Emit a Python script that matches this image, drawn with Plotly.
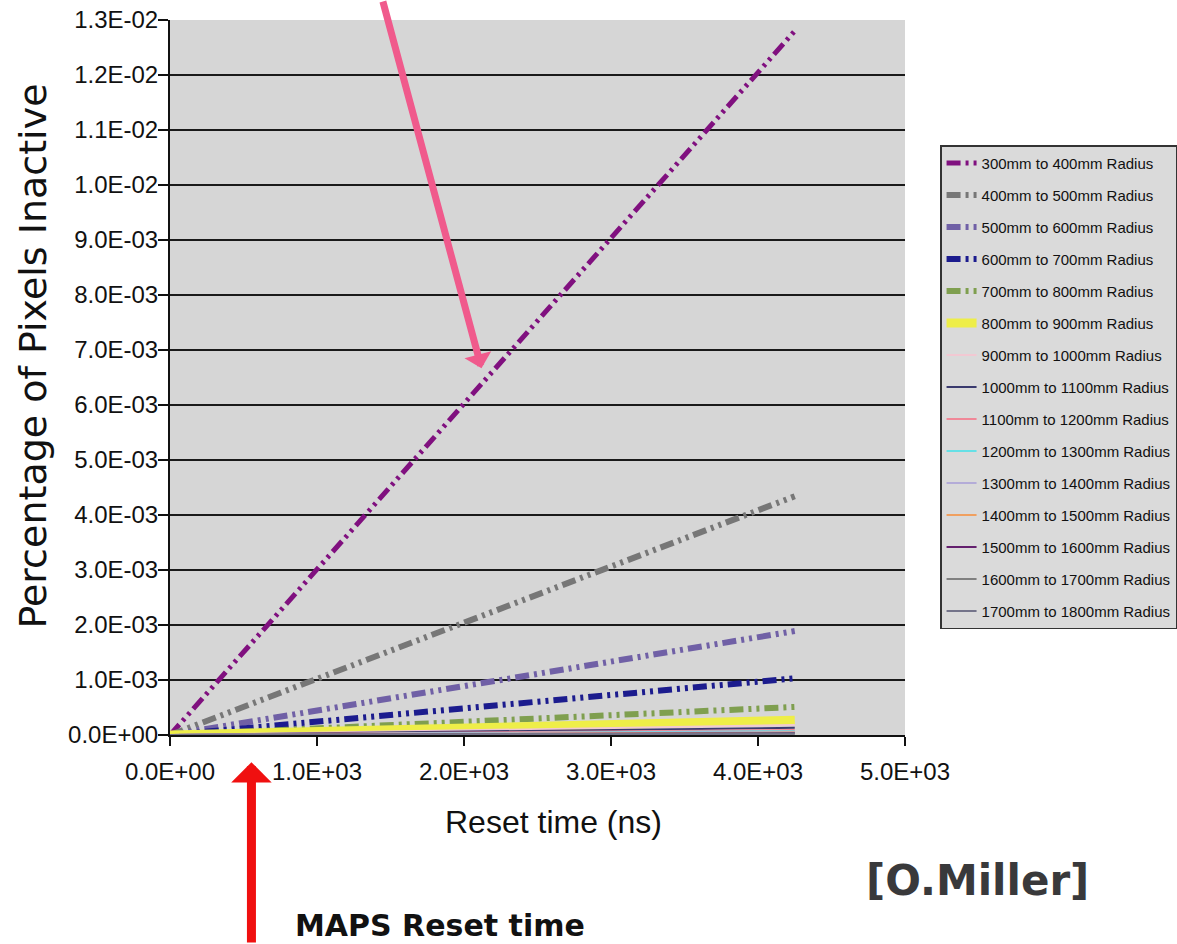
import plotly.graph_objects as go

# Reset time (ns) at which each curve was evaluated
reset_time = [0, 4250]

# Percentage of pixels inactive per radial band
band_labels = [
    "300mm to 400mm Radius", "400mm to 500mm Radius", "500mm to 600mm Radius",
    "600mm to 700mm Radius", "700mm to 800mm Radius", "800mm to 900mm Radius",
    "900mm to 1000mm Radius", "1000mm to 1100mm Radius", "1100mm to 1200mm Radius",
    "1200mm to 1300mm Radius", "1300mm to 1400mm Radius", "1400mm to 1500mm Radius",
    "1500mm to 1600mm Radius", "1600mm to 1700mm Radius", "1700mm to 1800mm Radius",
]
r300_400 = [0.0, 1.28e-2]
r400_500 = [0.0, 4.34e-3]
r500_600 = [0.0, 1.89e-3]
r600_700 = [0.0, 1.03e-3]
r700_800 = [0.0, 5.1e-4]
r800_900 = [0.0, 2.7e-4]
r900_1000 = [0.0, 1.8e-4]
r1000_1100 = [0.0, 1.3e-4]
r1100_1200 = [0.0, 9.0e-5]
r1200_1300 = [0.0, 7.0e-5]
r1300_1400 = [0.0, 5.5e-5]
r1400_1500 = [0.0, 4.5e-5]
r1500_1600 = [0.0, 3.5e-5]
r1600_1700 = [0.0, 2.8e-5]
r1700_1800 = [0.0, 2.2e-5]

band_values = [
    r300_400, r400_500, r500_600, r600_700, r700_800, r800_900, r900_1000,
    r1000_1100, r1100_1200, r1200_1300, r1300_1400, r1400_1500, r1500_1600,
    r1600_1700, r1700_1800,
]

# Axis ticks
y_tickvals = [i * 1e-3 for i in range(14)]
y_ticktext = ["0.0E+00", "1.0E-03", "2.0E-03", "3.0E-03", "4.0E-03", "5.0E-03",
              "6.0E-03", "7.0E-03", "8.0E-03", "9.0E-03", "1.0E-02", "1.1E-02",
              "1.2E-02", "1.3E-02"]
x_tickvals = [0, 1000, 2000, 3000, 4000, 5000]
x_ticktext = ["0.0E+00", "1.0E+03", "2.0E+03", "3.0E+03", "4.0E+03", "5.0E+03"]

# Line styles per band
dashdotdot = "14px,5px,3px,5px,3px,5px"
styles = [
    dict(color="#80107f", width=5, dash=dashdotdot),
    dict(color="#777777", width=6, dash=dashdotdot),
    dict(color="#7060a6", width=6, dash=dashdotdot),
    dict(color="#1c1c8e", width=6, dash=dashdotdot),
    dict(color="#7f9f4f", width=6, dash=dashdotdot),
    dict(color="#eeee48", width=9, dash="solid"),
    dict(color="#f2c8d2", width=2, dash="solid"),
    dict(color="#3a3a6e", width=2, dash="solid"),
    dict(color="#f08898", width=2, dash="solid"),
    dict(color="#66e0e6", width=2, dash="solid"),
    dict(color="#b4acd8", width=2, dash="solid"),
    dict(color="#f0a060", width=2, dash="solid"),
    dict(color="#64206e", width=2, dash="solid"),
    dict(color="#808080", width=2, dash="solid"),
    dict(color="#74748a", width=2, dash="solid"),
]

SANS = "Liberation Sans, Arial, sans-serif"

fig = go.Figure()
for i, (name, vals, st) in enumerate(zip(band_labels, band_values, styles)):
    fig.add_trace(go.Scatter(
        x=reset_time, y=vals, mode="lines", name=name,
        legendgroup=f"g{i}", line=st,
    ))

fig.update_layout(
    width=1177, height=944,
    margin=dict(l=170, r=272, t=20, b=209, autoexpand=False),
    paper_bgcolor="white",
    plot_bgcolor="#d6d6d6",
    showlegend=True,
    legend=dict(
        x=1.0477, y=0.825, xanchor="left", yanchor="top",
        bgcolor="#dadada", bordercolor="#333333", borderwidth=1.5,
        font=dict(family=SANS, size=15, color="#111111"),
        traceorder="grouped", tracegroupgap=9.5, itemwidth=30,
    ),
    xaxis=dict(
        range=[0, 5000], tickvals=x_tickvals, ticktext=x_ticktext,
        showgrid=False, zeroline=False, showline=True, linecolor="#111111",
        linewidth=2, ticks="outside", ticklen=9, tickwidth=1.5, tickcolor="#111111",
        ticklabelstandoff=5,
        tickfont=dict(family=SANS, size=24, color="#111111"),
    ),
    yaxis=dict(
        range=[0, 0.013], tickvals=y_tickvals, ticktext=y_ticktext,
        showgrid=True, gridcolor="#1a1a1a", gridwidth=2, zeroline=False,
        showline=True, linecolor="#111111", linewidth=2,
        ticks="outside", ticklen=10, tickwidth=1.5, tickcolor="#111111",
        ticklabelstandoff=-5,
        tickfont=dict(family=SANS, size=24, color="#111111"),
    ),
    annotations=[
        # y-axis title
        dict(x=-0.187, y=0.530, xref="paper", yref="paper", showarrow=False,
             text="Percentage of Pixels Inactive", textangle=-90,
             xanchor="center", yanchor="middle",
             font=dict(family="DejaVu Sans, Verdana, sans-serif", size=38,
                       color="#111111")),
        # x-axis title
        dict(x=0.522, y=-0.122, xref="paper", yref="paper", showarrow=False,
             text="Reset time (ns)", xanchor="center", yanchor="middle",
             font=dict(family=SANS, size=32, color="#111111")),
        # pointer to the innermost band
        dict(x=2119, y=6.67e-3, xref="x", yref="y", ax=-99, ay=-375,
             axref="pixel", ayref="pixel", text="", showarrow=True,
             arrowhead=1, arrowsize=0.66, arrowwidth=7, arrowcolor="#f05a8c",
             standoff=0),
        # marker for the MAPS reset time on the time axis
        dict(x=554, y=-0.038, xref="x", yref="paper", ax=0, ay=190,
             text="", showarrow=True, arrowhead=1, arrowsize=0.75,
             arrowwidth=9, arrowcolor="#f01010", standoff=0),
        dict(x=0.368, y=-0.266, xref="paper", yref="paper", showarrow=False,
             text="<b>MAPS Reset time</b>", xanchor="center", yanchor="middle",
             font=dict(family="DejaVu Sans, sans-serif", size=30, color="#111111")),
        dict(x=1.098, y=-0.203, xref="paper", yref="paper", showarrow=False,
             text="<b>[O.Miller]</b>", xanchor="center", yanchor="middle",
             font=dict(family="Comic Sans MS, DejaVu Sans, sans-serif", size=42,
                       color="#39393b")),
    ],
)

fig.write_html("out.html")
